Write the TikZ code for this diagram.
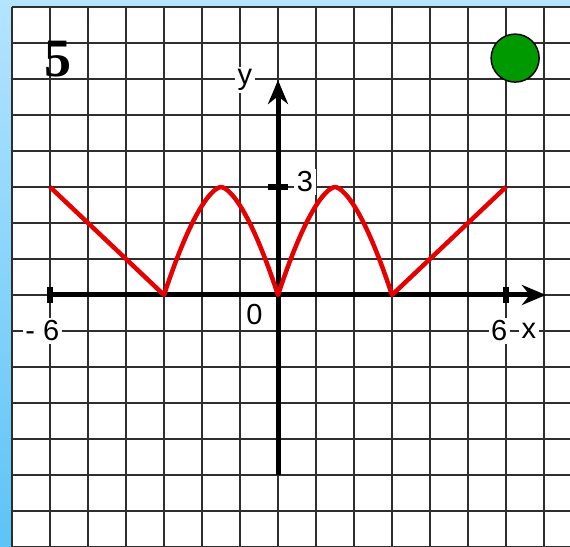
\documentclass[tikz,border=0pt]{standalone}
\usepackage{fontspec}
\setmainfont{Liberation Sans}
\newfontfamily\numfont{Liberation Serif}
\usepackage{tikz}
\usepackage{xcolor}
\usetikzlibrary{arrows.meta}

\definecolor{skytop}{HTML}{B4E4FF}
\definecolor{skybottom}{HTML}{5CC4F6}
\definecolor{gridgray}{HTML}{2E2E2E}
\definecolor{dotgreen}{HTML}{009A00}
\definecolor{graphred}{HTML}{E60000}

\tikzset{
  gridline/.style={gridgray, line width=2pt},
  axisline/.style={black, line width=5pt},
  axistick/.style={black, line width=6pt},
  graphline/.style={graphred, line width=4.5pt, line join=round},
  axislabel/.style={fill=white, inner sep=2.5pt, font=\fontsize{29}{31}\selectfont}
}

\begin{document}
\begin{tikzpicture}[x=38pt, y=36pt]
\useasboundingbox (-7.316,-7) rectangle (7.684,8.194);
\shade[top color=skytop, bottom color=skybottom] (-7.316,-7) rectangle (7.684,8.194);
\fill[white] (-7,-7) rectangle (7.684,8);

\foreach \i in {-7,...,7}
  \draw[gridline] (\i,-7) -- (\i,8);
\foreach \j in {-7,...,8}
  \draw[gridline] (-7,\j) -- (7.684,\j);

\node[axislabel] (yname) at (-0.87,5.97) {y};
\node[axislabel] (three) at (0.71,3.14) {3};
\node[axislabel] (zero) at (-0.62,-0.55) {0};
\node[axislabel] (minussix) at (-6.2,-1) {- 6};
\node[axislabel] (six) at (5.82,-1) {6};
\node[axislabel] (xname) at (6.6,-1) {x};

\coordinate (xstart) at (-6,0);
\coordinate (xend) at (7.05,0);
\coordinate (ystart) at (0,-5);
\coordinate (yend) at (0,5.97);

\draw[axisline, -{Stealth[length=24pt, width=20pt]}] (xstart) -- (xend);
\draw[axisline, -{Stealth[length=24pt, width=20pt]}] (ystart) -- (yend);

\draw[axistick] (-6,-0.22) -- (-6,0.22);
\draw[axistick] (6,-0.22) -- (6,0.22);
\draw[axistick] (-0.26,3) -- (0.26,3);

\draw[graphline] (-6,3) -- (-3,0)
  -- plot[domain=-3:0, samples=60] ({\x},{3*(1-pow(abs((\x+1.5)/1.5),1.6))})
  -- plot[domain=0:3, samples=60] ({\x},{3*(1-pow(abs((\x-1.5)/1.5),1.6))})
  -- (6,3);

\node[font=\numfont\bfseries\fontsize{54}{56}\selectfont, inner sep=0pt] (number) at (-5.79,6.55) {5};

\node[circle, 
      fill=dotgreen, 
      draw=black, 
      line width=1.5pt, 
      minimum size=48pt, 
      inner sep=0pt] (dot) at (6.24,6.58) {};
\end{tikzpicture}
\end{document}
